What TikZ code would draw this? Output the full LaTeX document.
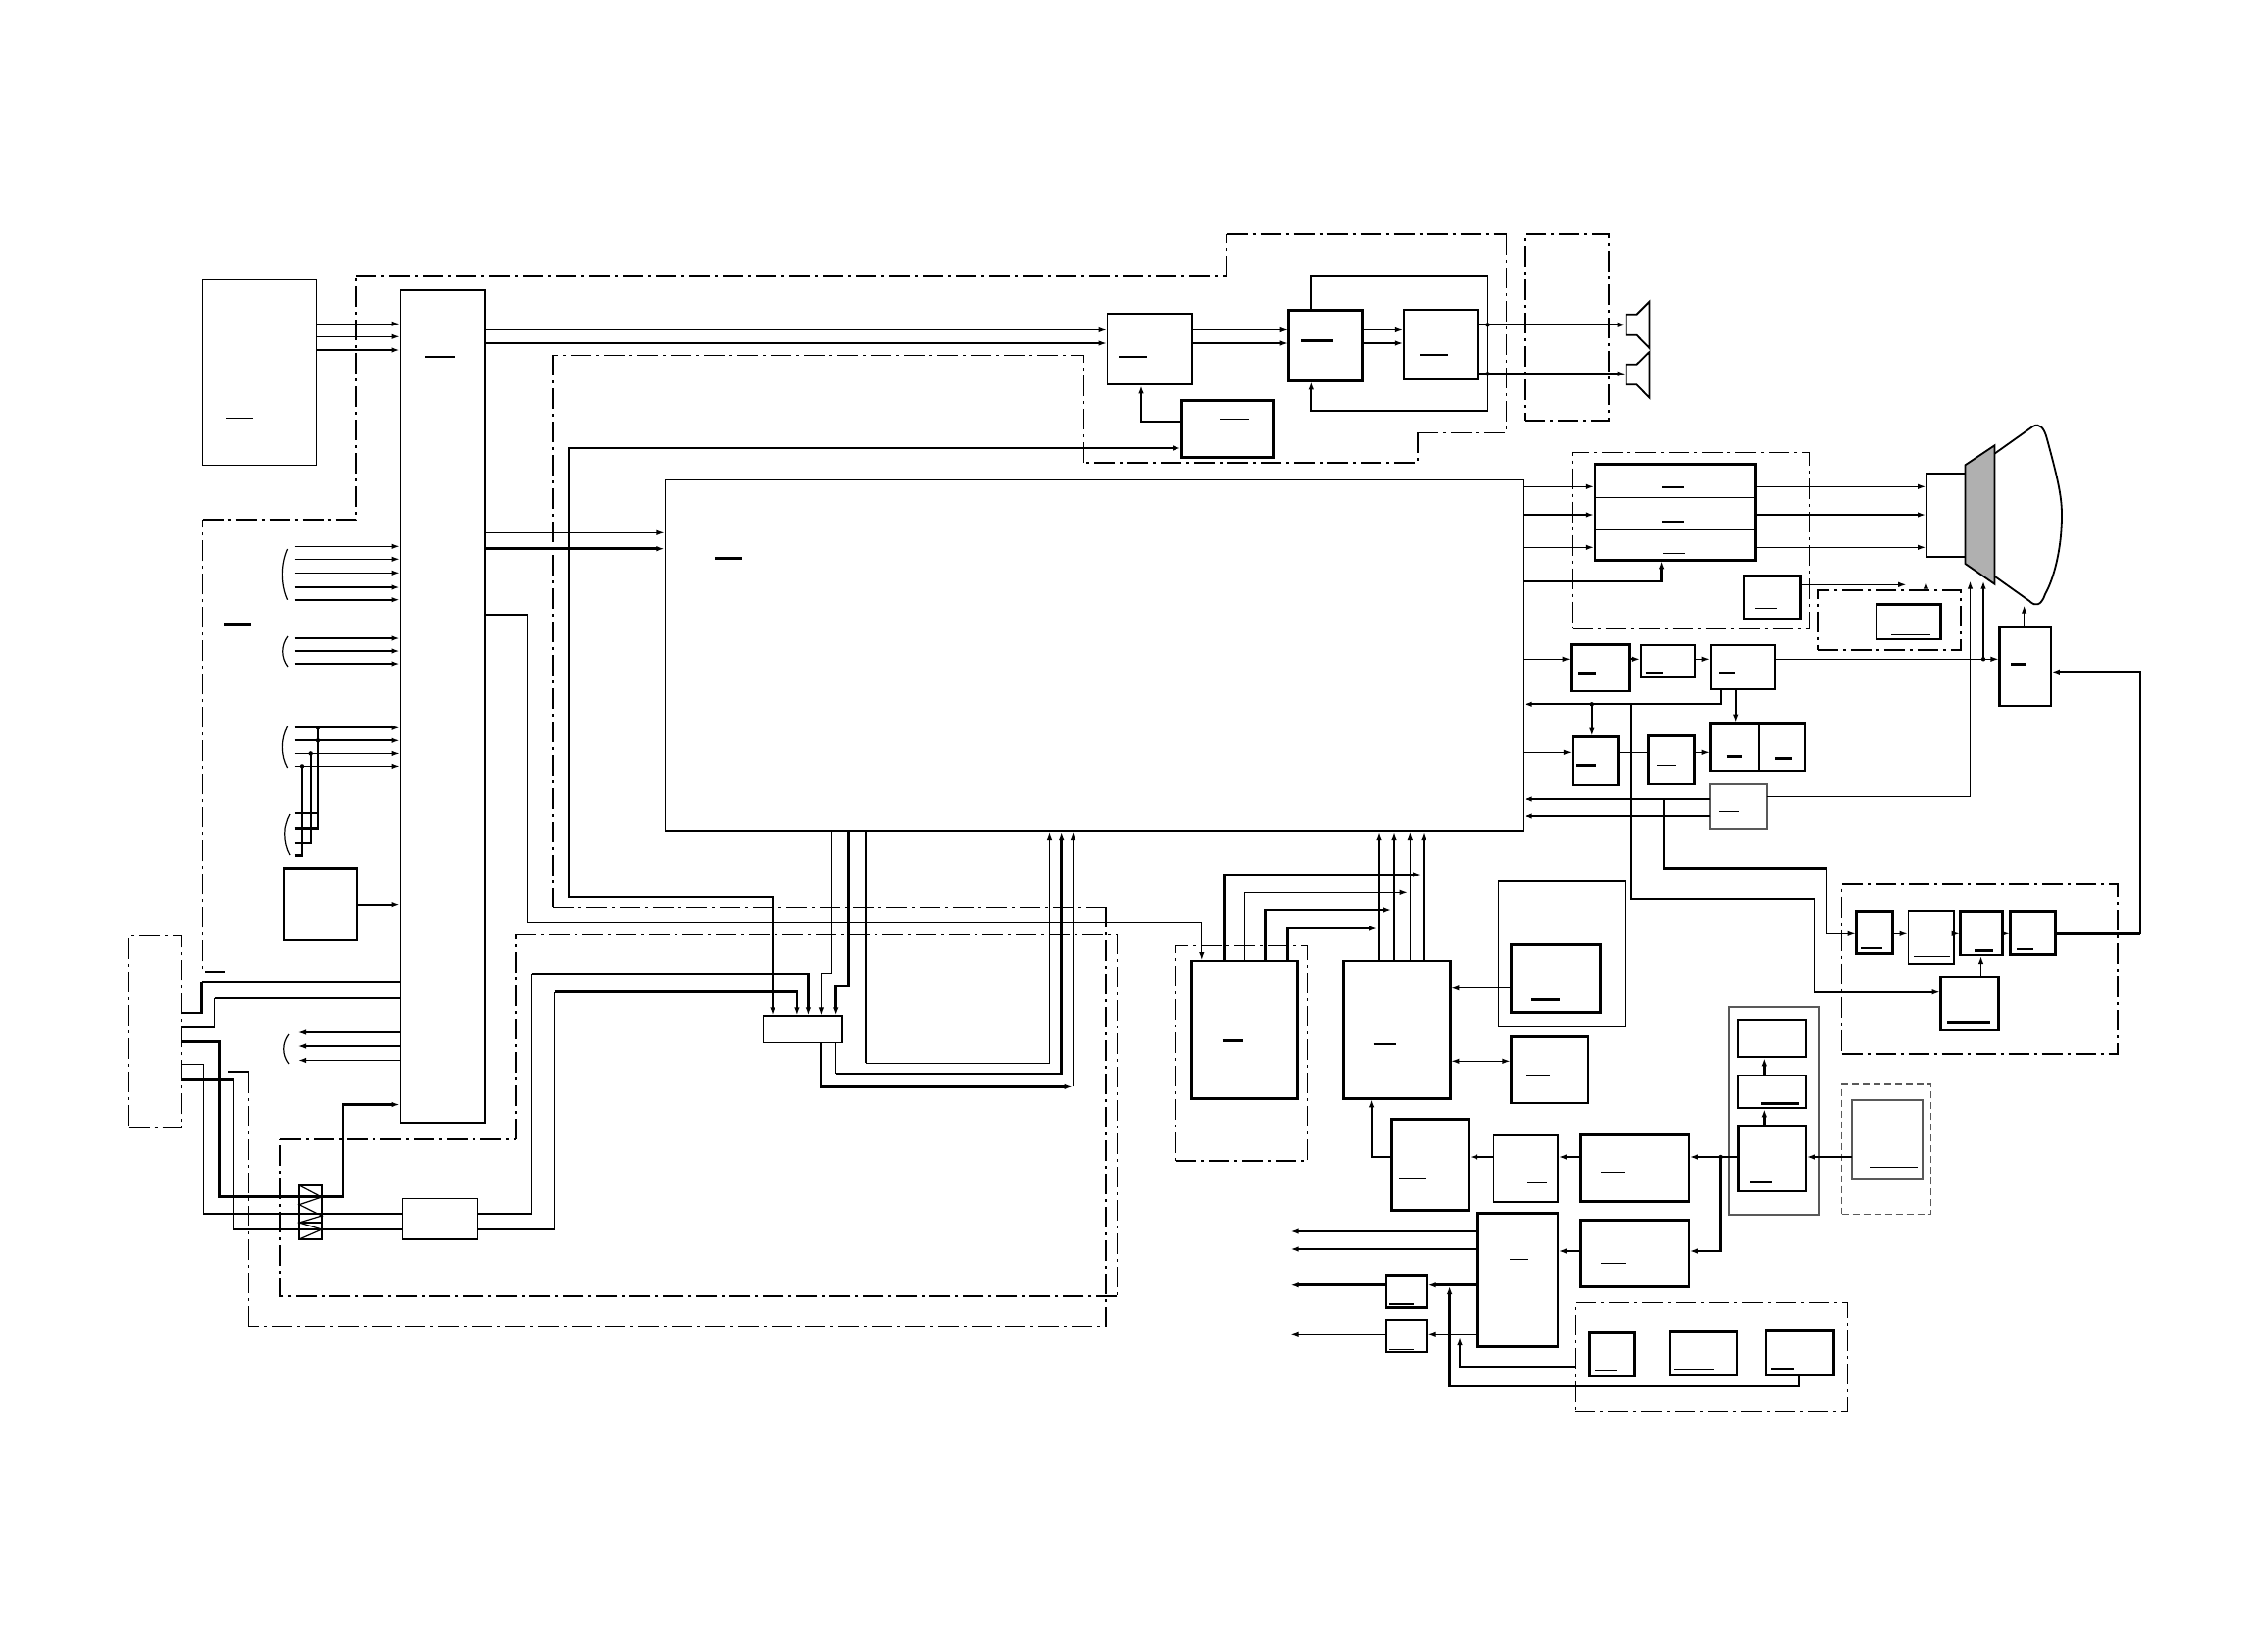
\documentclass[tikz,border=0pt]{standalone}
\usetikzlibrary{arrows.meta}
\tikzset{
  w1/.style={line width=1.2pt},
  w2/.style={line width=1.8pt},
  w3/.style={line width=2.6pt},
  arr/.style={-{Latex[length=8pt,width=5.5pt]},shorten >=1pt},
  rarr/.style={{Latex[length=8pt,width=5.5pt]}-,shorten <=1pt},
  both/.style={{Latex[length=8pt,width=5.5pt]}-{Latex[length=8pt,width=5.5pt]},shorten >=1pt,shorten <=1pt},
  dd/.style={dash pattern=on 21pt off 5pt on 3pt off 5pt},
  boxn/.style={draw,inner sep=0pt,outer sep=0pt,anchor=north west,w2},
  boxt/.style={boxn,w1},
  boxk/.style={boxn,w3},
  boxg/.style={boxn,w2,draw=black!65},
  boxdd/.style={boxn,w1,dd},
  boxdk/.style={boxn,w2,dd},
  boxds/.style={boxn,w1,draw=black!65,dash pattern=on 7pt off 4pt},
}
\newcommand\bx[6]{\node[#2,minimum width={(#5-#3)*1pt},minimum height={(#6-#4)*1pt}] (#1) at (#3,#4) {};}
\newcommand\dashlab[4][w2]{\draw[#1] (#2,#4) -- (#3,#4);}
\newcommand\parenmark[3]{\draw[w1] (#1+6,#2) .. controls (#1-1,#2+0.3*#3-0.3*#2) and (#1-1,#2+0.7*#3-0.7*#2) .. (#1+6,#3);}
\newcommand\junct[2]{\fill (#1,#2) circle[radius=2.2pt];}
\begin{document}
\begin{tikzpicture}[x=1pt,y=-1pt]
\useasboundingbox (0,0) rectangle (2296,1684);
\fill[white] (0,0) rectangle (2296,1684);
% ---------- dash-dot enclosures (open polygons)
\draw[dd,w2] (206.5,530) -- (363,530) -- (363,282);
\draw[dd,w3] (363,282) -- (1251.5,282);
\draw[dd,w1] (1251.5,282) -- (1251.5,239);
\draw[dd,w2] (1251.5,239) -- (1536.7,239);
\draw[dd,w1] (1536.7,239) -- (1536.7,441.3) -- (1446.3,441.3);
\draw[dd,w2] (1446.3,441.3) -- (1446.3,472) -- (1105.4,472);
\draw[dd,w1] (1105.4,472) -- (1105.4,362.3) -- (564,362.3);
\draw[dd,w2] (564,362.3) -- (564,925.3);
\draw[dd,w1] (564,925.3) -- (1128,925.3);
\draw[dd,w2] (1128,925.3) -- (1128,1353) -- (253.6,1353);
\draw[dd,w1] (253.6,1353) -- (253.6,1093);
\draw[dd,w2] (253.6,1093) -- (229.8,1093);
\draw[dd,w1] (229.8,1093) -- (229.8,991) -- (206.5,991) -- (206.5,530);
\draw[dd,w1] (526,953.3) -- (1139.3,953.3) -- (1139.3,1321.6);
\draw[dd,w2] (1139.3,1321.6) -- (286,1321.6) -- (286,1162);
\draw[dd,w1] (286,1162) -- (526,1162);
\draw[dd,w2] (526,1162) -- (526,953.3);
% ---------- boxes
\bx{tuner}{boxt}{206.5}{285.3}{322.8}{474.3}
\bx{mainb}{boxt}{408.5}{296}{495}{1145}
\draw[w3] (mainb.north west) -- (mainb.north east) -- (mainb.south east);
\bx{cpu}{boxt}{678.4}{489.3}{1553.7}{848}
\draw[w3] (cpu.south west) -- (cpu.south east);
\bx{term}{boxk}{290}{885.6}{364}{958.8}
\bx{conn}{boxdd}{131.5}{954.6}{185.4}{1150.5}
\bx{zig}{boxt}{305}{1209}{328}{1264}
\bx{filt}{boxt}{410.5}{1222.8}{487.4}{1264}
\bx{sw}{boxn}{778.5}{1036.3}{859.2}{1063.5}
\bx{aud1}{boxn}{1129.5}{319.7}{1216.3}{392.3}
\bx{aud2}{boxk}{1314.7}{316.3}{1389.3}{388.3}
\bx{aud3}{boxn}{1431.8}{316.3}{1508.3}{387.3}
\bx{aud4}{boxk}{1205.2}{408.7}{1298.2}{466.3}
\bx{spkbox}{boxdk}{1555}{239}{1641}{429}
\bx{rgbbox}{boxdd}{1603.5}{461.3}{1845.3}{641.3}
\bx{rgb}{boxk}{1626.8}{473.7}{1790.2}{571.3}
\draw[w1] (rgb.west |- 0,507.3) -- (rgb.east |- 0,507.3);
\draw[w1] (rgb.west |- 0,540.3) -- (rgb.east |- 0,540.3);
\bx{neck}{boxn}{1965}{482.7}{2004.5}{567.7}
\bx{anode}{boxk}{1778.8}{587.7}{1836.2}{631}
\bx{hvbox}{boxdk}{1853.8}{602.3}{1999.6}{663.3}
\bx{hv}{boxk}{1913.8}{616.3}{1979.3}{652}
\bx{defl}{boxk}{2039.4}{639.7}{2091.8}{720}
\bx{hA}{boxk}{1602.7}{657.7}{1662.4}{705}
\bx{hB}{boxn}{1673.9}{657.7}{1728.6}{691.3}
\bx{hC}{boxn}{1744.7}{657.7}{1809.8}{703.3}
\bx{iA}{boxk}{1603.9}{751.7}{1650.6}{801}
\bx{iB}{boxk}{1681.5}{750.7}{1728.2}{800}
\bx{jA}{boxk}{1744.7}{737.7}{1794}{786}
\bx{jB}{boxk}{1794}{737.7}{1841}{786}
\bx{vert}{boxg}{1744.3}{800.3}{1801.7}{846}
\bx{romb}{boxdd}{1199}{964.3}{1333.7}{1184}
\bx{rom}{boxk}{1215.7}{980}{1323.7}{1120.2}
\bx{mem}{boxk}{1370.7}{980}{1479.4}{1120.3}
\bx{ext}{boxn}{1528.4}{899}{1657.7}{1047.3}
\bx{extin}{boxk}{1541.3}{963.7}{1632.3}{1032.7}
\bx{ser}{boxk}{1541.4}{1057.7}{1619.8}{1125}
\bx{pa}{boxk}{1419.7}{1141.7}{1498}{1234.3}
\bx{pb}{boxn}{1523.4}{1157.7}{1588.8}{1225.7}
\bx{pc}{boxk}{1612.6}{1157.7}{1722.8}{1225.7}
\bx{pd}{boxk}{1612.6}{1244.7}{1722.8}{1312.7}
\bx{pe}{boxk}{1507.7}{1237.7}{1588.8}{1373.3}
\bx{pf}{boxk}{1414}{1300.7}{1455.7}{1333.3}
\bx{pg}{boxn}{1414}{1346.3}{1455.7}{1378.7}
\bx{ctlbox}{boxdd}{1606.4}{1328.3}{1884.6}{1439.3}
\bx{ca}{boxk}{1621.4}{1359.7}{1667.7}{1403.3}
\bx{cb}{boxk}{1702.9}{1358.3}{1772}{1402}
\bx{cc}{boxk}{1800.9}{1357.7}{1870.5}{1402}
\bx{stack}{boxg}{1763.7}{1026.7}{1855.2}{1238.7}
\bx{sa}{boxn}{1773.3}{1040.3}{1841.8}{1078.3}
\bx{sb}{boxn}{1773.3}{1097.3}{1841.8}{1130.3}
\bx{sc}{boxk}{1773.3}{1148.7}{1841.8}{1215}
\bx{mainsbox}{boxds}{1878.5}{1106}{1969.5}{1238.3}
\bx{mains}{boxg}{1888.8}{1121.7}{1960.8}{1202.7}
\bx{deflbox}{boxdk}{1878.5}{902.3}{2160}{1075}
\bx{ba}{boxk}{1893.5}{929.3}{1930.7}{972.3}
\bx{bb}{boxn}{1946.5}{929.3}{1993.2}{983.3}
\bx{bc}{boxk}{1999.5}{929.3}{2042.2}{974}
\bx{bd}{boxk}{2050.5}{929.3}{2096.4}{973.3}
\bx{be}{boxk}{1979.7}{996.7}{2038.3}{1051}
% zigzag in the filter
\draw[w1] (305,1209) -- (328,1221) -- (305,1228.7) -- (328,1240) -- (305,1247) -- (328,1254) -- (305,1264);
\draw[w1] (305,1221) -- (328,1221) (305,1238) -- (328,1238) (305,1247) -- (328,1247) (305,1254) -- (328,1254);
% ---------- label bars
\dashlab[w1]{231}{258}{426.7}
\dashlab[w3]{433}{464}{364}
\dashlab[w3]{228}{256}{636.7}
\dashlab[w3]{729}{757}{569.6}
\dashlab[w3]{1141}{1170}{364}
\dashlab[w3]{1327}{1360}{347.7}
\dashlab[w3]{1448}{1477}{362}
\dashlab[w1]{1244}{1274}{427.3}
\dashlab[w3]{1695}{1718}{497}
\dashlab[w3]{1695}{1718}{532}
\dashlab[w1]{1696}{1719}{564.3}
\dashlab[w1]{1790}{1813}{620.3}
\dashlab[w1]{1929}{1969}{647.3}
\dashlab[w3]{2051}{2066.5}{677.7}
\dashlab[w3]{1610}{1628}{686.7}
\dashlab[w3]{1678.5}{1696}{686}
\dashlab[w3]{1753}{1770}{686}
\dashlab[w3]{1607}{1628}{780.7}
\dashlab[w1]{1690}{1709}{780.3}
\dashlab[w3]{1761.5}{1777}{771.7}
\dashlab[w3]{1810}{1828}{773.7}
\dashlab[w1]{1753}{1774}{827.3}
\dashlab[w3]{1246.5}{1268}{1061.7}
\dashlab[w3]{1400.5}{1423.5}{1065}
\dashlab[w3]{1562}{1591}{1019.7}
\dashlab[w2]{1556}{1581}{1097}
\dashlab[w1]{1427}{1454}{1202.3}
\dashlab[w1]{1558}{1578}{1206.3}
\dashlab[w1]{1633}{1657}{1195.3}
\dashlab[w1]{1633}{1658}{1288.3}
\dashlab[w1]{1540}{1559}{1284.3}
\dashlab[w3]{1417}{1442}{1330}
\dashlab[w1]{1417}{1442}{1376.7}
\dashlab[w1]{1627}{1649}{1397.3}
\dashlab[w1]{1707}{1748}{1396.3}
\dashlab[w3]{1806}{1830}{1396}
\dashlab[w3]{1796}{1835}{1125.7}
\dashlab[w3]{1785}{1807}{1206}
\dashlab[w1]{1907}{1956}{1190.3}
\dashlab[w3]{1898}{1920}{967}
\dashlab[w1]{1952}{1989}{975.3}
\dashlab[w3]{2014}{2033}{969.7}
\dashlab[w1]{2057}{2074}{968}
\dashlab[w3]{1986}{2030}{1042.7}
% ---------- brackets
\parenmark{287.6}{560}{611.7}
\parenmark{288}{649}{680}
\parenmark{287.6}{741}{783}
\parenmark{290}{830}{872}
\parenmark{289}{1055}{1085}
% ---------- picture tube and speakers
\coordinate (spkA) at (1658.7,331.3);
\coordinate (spkB) at (1658.7,381.3);
\draw[w2] (1658.7,320.7) -- (1669.5,320.7) -- (1682.5,307.7) -- (1682.5,355) -- (1669.5,341.7) -- (1658.7,341.7) -- cycle;
\draw[w2] (1658.7,371.7) -- (1669.5,371.7) -- (1682.5,359) -- (1682.5,405.7) -- (1669.5,392.3) -- (1658.7,392.3) -- cycle;
\draw[w2,fill=black!31] (2004.5,474.3) -- (2034.4,454.3) -- (2034.4,595.7) -- (2004.5,575) -- cycle;
\draw[w2] (2034.4,462.7) -- (2073.4,435) .. controls (2080,431) and (2085,436) .. (2088,448) .. controls (2098,485) and (2103,505) .. (2103,525) .. controls (2103,560) and (2095,590) .. (2086,606) .. controls (2082,618) and (2076,619) .. (2070,613) -- (2034.4,587.7);
\coordinate (tubeA) at (1945.2,596.3);
\coordinate (tubeB) at (1964.4,591.7);
\coordinate (tubeC) at (2009.5,591.7);
\coordinate (tubeD) at (2023,591.7);
\coordinate (tubeE) at (2064.6,616.7);
% ---------- tuner and left inputs
\draw[w1,arr] (tuner.east |- 0,330.3) -- (mainb.west |- 0,330.3);
\draw[w1,arr] (tuner.east |- 0,343.3) -- (mainb.west |- 0,343.3);
\draw[w3,arr] (tuner.east |- 0,357) -- (mainb.west |- 0,357);
\coordinate (inA) at (300.6,0);
\draw[w1,arr] (inA |- 0,557.3) -- (mainb.west |- 0,557.3);
\draw[w1,arr] (inA |- 0,570.3) -- (mainb.west |- 0,570.3);
\draw[w1,arr] (inA |- 0,584.3) -- (mainb.west |- 0,584.3);
\draw[w2,arr] (inA |- 0,599) -- (mainb.west |- 0,599);
\draw[w2,arr] (inA |- 0,611.7) -- (mainb.west |- 0,611.7);
\draw[w2,arr] (inA |- 0,651) -- (mainb.west |- 0,651);
\draw[w2,arr] (inA |- 0,664) -- (mainb.west |- 0,664);
\draw[w2,arr] (inA |- 0,677) -- (mainb.west |- 0,677);
\draw[w2,arr] (inA |- 0,742.3) -- (mainb.west |- 0,742.3);
\draw[w2,arr] (inA |- 0,755.3) -- (mainb.west |- 0,755.3);
\draw[w1,arr] (inA |- 0,768.4) -- (mainb.west |- 0,768.4);
\draw[w1,arr] (inA |- 0,781.4) -- (mainb.west |- 0,781.4);
\draw[w2] (inA |- 0,829) -- (324,829);
\draw[w3] (inA |- 0,845.7) -- (324,845.7) -- (324,742.3);
\draw[w2] (inA |- 0,859.6) -- (316.7,859.6) -- (316.7,768.4);
\draw[w3] (inA |- 0,872.6) -- (308,872.6) -- (308,781.4);
\junct{324}{742.3}\junct{324}{755.3}\junct{316.7}{768.4}\junct{308}{781.4}
\draw[w2,arr] (term.east |- 0,922.6) -- (mainb.west |- 0,922.6);
\draw[w1,rarr] (303,1053) -- (mainb.west |- 0,1053);
\draw[w1,rarr] (303,1067) -- (mainb.west |- 0,1067);
\draw[w2,rarr] (303,1081.5) -- (mainb.west |- 0,1081.5);
% ---------- connector panel
\draw[w3] (conn.east |- 0,1032.8) -- (205.7,1032.8) -- (205.7,1002);
\draw[w1] (205.7,1002) -- (mainb.west |- 0,1002);
\draw[w1] (conn.east |- 0,1047.9) -- (218.7,1047.9) -- (218.7,1017.7);
\draw[w2] (218.7,1017.7) -- (mainb.west |- 0,1017.7);
\draw[w3,arr] (conn.east |- 0,1062.6) -- (223.3,1062.6) -- (223.3,1220.7) -- (350,1220.7) -- (350,1126.5) -- (mainb.west |- 0,1126.5);
\draw[w1] (conn.east |- 0,1085.3) -- (207.3,1085.3) -- (207.3,1238) -- (filt.west |- 0,1238);
\draw[w3] (conn.east |- 0,1101.3) -- (238.6,1101.3);
\draw[w1] (238.6,1101.3) -- (238.6,1254) -- (filt.west |- 0,1254);
% ---------- filter to switch
\draw[w1] (filt.east |- 0,1238) -- (542.5,1238) -- (542.5,992.8);
\draw[w3,arr] (542.5,992.8) -- (824.4,992.8) -- (sw.north -| 824.4,0);
\draw[w1] (filt.east |- 0,1254) -- (565.8,1254) -- (565.8,1011.7);
\draw[w3,arr] (565.8,1011.7) -- (812.9,1011.7) -- (sw.north -| 812.9,0);
% ---------- main to cpu
\draw[w1,arr] (mainb.east |- 0,543.3) -- (cpu.west |- 0,543.3);
\draw[w3,arr] (mainb.east |- 0,559.7) -- (cpu.west |- 0,559.7);
\draw[w3] (mainb.east |- 0,627) -- (538.5,627);
\draw[w1,arr] (538.5,627) -- (538.5,940.3) -- (1225.8,940.3) -- (rom.north -| 1225.8,0);
\draw[w3,both] (aud4.west |- 0,457) -- (580,457) -- (580,915) -- (788,915) -- (sw.north -| 788,0);
% ---------- cpu and switch
\draw[w1,arr] (cpu.south -| 848.5,0) -- (848.5,992.8) -- (837.4,992.8) -- (sw.north -| 837.4,0);
\draw[w3,arr] (cpu.south -| 865.7,0) -- (865.7,1006) -- (852.7,1006) -- (sw.north -| 852.7,0);
\draw[w3] (cpu.south -| 883,0) -- (883,1084.2);
\draw[w1,arr] (883,1084.2) -- (1070.5,1084.2) -- (cpu.south -| 1070.5,0);
\draw[w1] (sw.south -| 852.7,0) -- (852.7,1094.9);
\draw[w3,arr] (852.7,1094.9) -- (1082.7,1094.9) -- (cpu.south -| 1082.7,0);
\draw[w3,arr] (sw.south -| 837,0) -- (837,1108.4) -- (1094.5,1108.4);
\draw[w1,arr] (1094.5,1108.4) -- (cpu.south -| 1094.5,0);
% ---------- audio chain
\draw[w1,arr] (mainb.east |- 0,336.5) -- (aud1.west |- 0,336.5);
\draw[w1,arr] (mainb.east |- 0,350) -- (aud1.west |- 0,350);
\draw[w1,arr] (aud1.east |- 0,336.5) -- (aud2.west |- 0,336.5);
\draw[w1,arr] (aud1.east |- 0,350) -- (aud2.west |- 0,350);
\draw[w1,arr] (aud2.east |- 0,336.5) -- (aud3.west |- 0,336.5);
\draw[w1,arr] (aud2.east |- 0,350) -- (aud3.west |- 0,350);
\draw[w2,arr] (aud3.east |- 0,331.3) -- (spkA);
\draw[w2,arr] (aud3.east |- 0,381.3) -- (spkB);
\draw[w2,arr] (aud2.north -| 1337.3,0) -- (1337.3,281.7) -- (1517.5,281.7) -- (1517.5,419.3) -- (1337.3,419.3) -- (aud2.south -| 1337.3,0);
\junct{1517.5}{331.3}\junct{1517.5}{381.3}
\draw[w3,arr] (aud4.west |- 0,430) -- (1164,430) -- (aud1.south -| 1164,0);
% ---------- RGB block
\draw[w1,arr] (cpu.east |- 0,496.3) -- (rgb.west |- 0,496.3);
\draw[w3,arr] (cpu.east |- 0,525) -- (rgb.west |- 0,525);
\draw[w1,arr] (cpu.east |- 0,558.3) -- (rgb.west |- 0,558.3);
\draw[w3,arr] (cpu.east |- 0,593) -- (1694.6,593) -- (rgb.south -| 1694.6,0);
\draw[w1,arr] (rgb.east |- 0,496.3) -- (neck.west |- 0,496.3);
\draw[w3,arr] (rgb.east |- 0,525) -- (neck.west |- 0,525);
\draw[w1,arr] (rgb.east |- 0,558.3) -- (neck.west |- 0,558.3);
\draw[w1,arr] (anode.east |- 0,596.3) -- (tubeA);
\draw[w2,arr] (hv.north -| 1964.4,0) -- (tubeB);
\draw[w1,arr] (vert.east |- 0,812.3) -- (2009.5,812.3) -- (tubeC);
\draw[w2,arr] (2023,672.3) -- (tubeD);
\junct{2023}{672.3}
\draw[w1,arr] (defl.north -| 2064.6,0) -- (tubeE);
\draw[w2,rarr] (defl.east |- 0,685.3) -- (2183,685.3) -- (2183,952.7);
\draw[w3] (2183,952.7) -- (bd.east |- 0,952.7);
% ---------- deflection row
\draw[w1,arr] (cpu.east |- 0,672.3) -- (hA.west |- 0,672.3);
\draw[w2,arr] (hA.east |- 0,672.3) -- (hB.west |- 0,672.3);
\draw[w1,arr] (hB.east |- 0,672.3) -- (hC.west |- 0,672.3);
\draw[w1,arr] (hC.east |- 0,672.3) -- (defl.west |- 0,672.3);
\draw[w2,arr] (hC.south -| 1755,0) -- (1755,718.3) -- (cpu.east |- 0,718.3);
\draw[w2,arr] (1623.8,718.3) -- (iA.north -| 1623.8,0);
\junct{1623.8}{718.3}
\draw[w2,arr] (hC.south -| 1770.7,0) -- (jA.north -| 1770.7,0);
\draw[w1,arr] (cpu.east |- 0,767.3) -- (iA.west |- 0,767.3);
\draw[w1] (iA.east |- 0,767.3) -- (iB.west |- 0,767.3);
\draw[w1,arr] (iB.east |- 0,767.3) -- (jA.west |- 0,767.3);
\draw[w3,arr] (vert.west |- 0,815) -- (cpu.east |- 0,815);
\draw[w3,arr] (vert.west |- 0,832) -- (cpu.east |- 0,832);
\draw[w2] (1664.2,718.3) -- (1664.2,917) -- (1850.5,917);
\draw[w2,arr] (1850.5,917) -- (1850.5,1011.7) -- (be.west |- 0,1011.7);
\draw[w3] (1697,815) -- (1697,885.7) -- (1863.5,885.7);
\draw[w1,arr] (1863.5,885.7) -- (1863.5,952.3) -- (ba.west |- 0,952.3);
\draw[w1,arr] (ba.east |- 0,952.3) -- (bb.west |- 0,952.3);
\draw[w1,arr] (bb.east |- 0,952.3) -- (bc.west |- 0,952.3);
\draw[w1,arr] (bc.east |- 0,952.3) -- (bd.west |- 0,952.3);
\draw[w2,arr] (be.north -| 2020.5,0) -- (bc.south -| 2020.5,0);
% ---------- rom and memory to cpu
\draw[w3,arr] (rom.north -| 1248.7,0) -- (1248.7,892) -- (1450,892);
\draw[w1,arr] (rom.north -| 1269.3,0) -- (1269.3,910.3) -- (1436.7,910.3);
\draw[w3,arr] (rom.north -| 1290.3,0) -- (1290.3,928) -- (1420,928);
\draw[w3,arr] (rom.north -| 1313.3,0) -- (1313.3,947) -- (1405,947);
\draw[w3,arr] (mem.north -| 1407,0) -- (cpu.south -| 1407,0);
\draw[w3,arr] (mem.north -| 1422,0) -- (cpu.south -| 1422,0);
\draw[w1,arr] (mem.north -| 1438.3,0) -- (cpu.south -| 1438.3,0);
\draw[w3,arr] (mem.north -| 1452,0) -- (cpu.south -| 1452,0);
\draw[w1,arr] (extin.west |- 0,1007.7) -- (mem.east |- 0,1007.7);
\draw[w1,both] (mem.east |- 0,1082.3) -- (ser.west |- 0,1082.3);
% ---------- power chain
\draw[w2,arr] (pa.west |- 0,1180) -- (1398.6,1180) -- (mem.south -| 1398.6,0);
\draw[w3,arr] (pb.west |- 0,1180) -- (pa.east |- 0,1180);
\draw[w3,arr] (pc.west |- 0,1180) -- (pb.east |- 0,1180);
\draw[w3,arr] (sc.west |- 0,1180) -- (pc.east |- 0,1180);
\junct{1754.6}{1180}
\draw[w3,arr] (1754.6,1180) -- (1754.6,1276) -- (pd.east |- 0,1276);
\draw[w3,arr] (pd.west |- 0,1276) -- (pe.east |- 0,1276);
\draw[w3,arr] (pe.west |- 0,1256) -- (1315.6,1256);
\draw[w3,arr] (pe.west |- 0,1274) -- (1315.6,1274);
\draw[w3,arr] (pe.west |- 0,1310.7) -- (pf.east |- 0,1310.7);
\draw[w3,arr] (pf.west |- 0,1310.7) -- (1315.6,1310.7);
\draw[w1,arr] (pe.west |- 0,1361.3) -- (pg.east |- 0,1361.3);
\draw[w1,arr] (pg.west |- 0,1361.3) -- (1315.6,1361.3);
\draw[w3,arr] (cc.south -| 1835,0) -- (1835,1414) -- (1478.6,1414) -- (1478.6,1311);
\draw[w2,arr] (ctlbox.west |- 0,1393.7) -- (1489,1393.7) -- (1489,1363);
\draw[w3,arr] (sc.north -| 1799.3,0) -- (sb.south -| 1799.3,0);
\draw[w3,arr] (sb.north -| 1799.3,0) -- (sa.south -| 1799.3,0);
\draw[w3,arr] (mains.west |- 0,1180) -- (sc.east |- 0,1180);
\end{tikzpicture}
\end{document}
